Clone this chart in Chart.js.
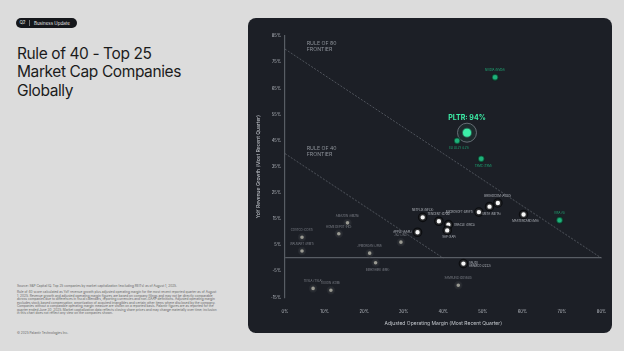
<!DOCTYPE html>
<html>
<head>
<meta charset="utf-8">
<script src="https://cdn.jsdelivr.net/npm/chart.js@4.4.1/dist/chart.umd.min.js"></script>
<style>
  body { margin: 0; width: 624px; height: 351px; background: #dcdcdc; font-family: Inter, "Noto Sans", sans-serif; overflow: hidden; position: relative; }
  .badge { position: absolute; left: 16px; top: 18px; height: 10px; width: 61px; background: #15171b; border-radius: 5px; color: #e8e8e8; font-size: 4.5px; display: flex; align-items: center; }
  .badge .q { width: 13px; text-align: center; border-right: 0.7px solid #777; line-height: 6px; }
  .badge .t { padding-left: 4px; }
  .title { position: absolute; left: 17px; top: 45px; font-size: 15.5px; line-height: 18.3px; color: #1b1b1b; letter-spacing: -0.4px; }
  .notes { position: absolute; left: 17px; top: 285px; width: 200px; font-size: 3.2px; line-height: 3.55px; color: #666; }
  .notes p { margin: 0 0 2.5px 0; }
  .copy { position: absolute; left: 17px; top: 331px; font-size: 3.2px; color: #666; }
  .panel { position: absolute; left: 248px; top: 18px; width: 364px; height: 315px; background: #1c1f26; border-radius: 8px; }
  canvas { position: absolute; left: 248px; top: 18px; }
</style>
</head>
<body>
<div class="badge"><span class="q">Q2</span><span class="t">Business Update</span></div>
<div class="title">Rule of 40 - Top 25<br>Market Cap Companies<br>Globally</div>
<div class="notes">
  <p>Source: S&amp;P Capital IQ. Top 25 companies by market capitalization (excluding REITs) as of August 1, 2025.</p>
  <p>Rule of 40 score calculated as YoY revenue growth plus adjusted operating margin for the most recent reported quarter as of August 1, 2025. Revenue growth and adjusted operating margin figures are based on company filings and may not be directly comparable across companies due to differences in fiscal calendars, reporting currencies and non-GAAP definitions. Adjusted operating margin excludes stock-based compensation, amortization of acquired intangibles and certain other items where disclosed by the company. Companies without a comparable operating margin measure are shown on a reported basis. Palantir figures are as reported for the quarter ended June 30, 2025. Market capitalization data reflects closing share prices and may change materially over time; inclusion in this chart does not reflect any view on the companies shown.</p>
</div>
<div class="copy">© 2025 Palantir Technologies Inc.</div>
<div class="panel"></div>
<canvas id="chart" width="364" height="315"></canvas>
<script>
// values
const companies = [
  "NVIDIA (NVDA)", "ELI LILLY (LLY)", "TSMC (TSM)", "VISA (V)",
  "NETFLIX (NFLX)", "APPLE (AAPL)", "TENCENT (0700)", "ORACLE (ORCL)", "SAP (SAP)",
  "MICROSOFT (MSFT)", "META (META)", "BROADCOM (AVGO)", "MASTERCARD (MA)", "SAUDI ARAMCO (2222)",
  "COSTCO (COST)", "WALMART (WMT)", "AMAZON (AMZN)", "HOME DEPOT (HD)", "JPMORGAN (JPM)",
  "BERKSHIRE (BRK)", "J&J (JNJ)", "TESLA (TSLA)", "EXXON (XOM)", "SAMSUNG (005930)"
];
const opMargin = [
  53.1, 43.5, 49.6, 69.4,
  34.8, 33.5, 38.9, 41.3, 41.0,
  49.0, 51.7, 53.8, 60.3, 45.1,
  4.3, 4.3, 15.8, 13.6, 21.4,
  22.9, 29.3, 7.1, 11.6, 43.8
];
const revGrowth = [
  69.2, 44.9, 38.0, 14.5,
  15.6, 9.9, 14.1, 12.8, 10.6,
  17.6, 19.7, 21.1, 16.7, -2.1,
  8.0, 2.7, 13.5, 9.3, 1.9,
  -1.8, 6.1, -11.6, -12.3, -10.4
];
const pltr = { name: "PLTR", margin: 46, growth: 48 };
const frontiers = [40, 80];
const xTicks = [0, 10, 20, 30, 40, 50, 60, 70, 80];
const yTicks = [-15, -5, 5, 15, 25, 35, 45, 55, 65, 75, 85];

const tierOf = (i) => {
  const score = opMargin[i] + revGrowth[i];
  if (score >= 80) return "top";
  if (score >= 40) return "mid";
  return "low";
};

function pointsFor(tier) {
  return companies
    .map((name, i) => ({ x: opMargin[i], y: revGrowth[i], name: name }))
    .filter((p, i) => tierOf(i) === tier);
}

// where each company's tag sits relative to its dot
const labelSide = {
  "NVIDIA (NVDA)": "a", "ELI LILLY (LLY)": "b", "TSMC (TSM)": "b", "VISA (V)": "a",
  "NETFLIX (NFLX)": "a", "APPLE (AAPL)": "l", "TENCENT (0700)": "a", "ORACLE (ORCL)": "r", "SAP (SAP)": "b",
  "MICROSOFT (MSFT)": "l", "META (META)": "b", "BROADCOM (AVGO)": "a", "MASTERCARD (MA)": "b", "SAUDI ARAMCO (2222)": "r2",
  "COSTCO (COST)": "a", "WALMART (WMT)": "a", "AMAZON (AMZN)": "a", "HOME DEPOT (HD)": "a", "JPMORGAN (JPM)": "a",
  "BERKSHIRE (BRK)": "b", "J&J (JNJ)": "a", "TESLA (TSLA)": "a", "EXXON (XOM)": "a", "SAMSUNG (005930)": "a"
};

const labelColors = { top: "#1fae78", mid: "#b9bdc4", low: "#7d8189" };

const pointLabels = {
  id: "pointLabels",
  afterDatasetsDraw(chart) {
    const ctx = chart.ctx;
    ctx.save();
    ctx.font = "2.8px Inter, sans-serif";
    chart.data.datasets.forEach((ds, di) => {
      if (!ds.tier) return;
      const meta = chart.getDatasetMeta(di);
      ctx.fillStyle = labelColors[ds.tier];
      meta.data.forEach((el, i) => {
        const name = ds.data[i].name;
        const side = labelSide[name] || "a";
        if (side === "a") { ctx.textAlign = "center"; ctx.fillText(name, el.x, el.y - 6); }
        else if (side === "b") { ctx.textAlign = "center"; ctx.fillText(name, el.x + 2, el.y + 8); }
        else if (side === "l") { ctx.textAlign = "right"; ctx.fillText(name, el.x - 5.5, el.y + 1); }
        else if (side === "r") { ctx.textAlign = "left"; ctx.fillText(name, el.x + 5.5, el.y + 1); }
        else {
          const parts = name.split(" ");
          ctx.textAlign = "left";
          ctx.fillText(parts[0], el.x + 5.5, el.y);
          ctx.fillText(parts.slice(1).join(" "), el.x + 5.5, el.y + 3.6);
        }
      });
    });

    // PLTR callout
    const pm = chart.getDatasetMeta(chart.data.datasets.findIndex(d => d.isPltr)).data[0];
    ctx.font = "bold 7px Inter, sans-serif";
    ctx.fillStyle = "#3cf0a8";
    ctx.textAlign = "center";
    ctx.fillText(pltr.name + ": " + (pltr.margin + pltr.growth) + "%", pm.x, pm.y - 13);

    // frontier tags
    const xs = chart.scales.x, ys = chart.scales.y;
    ctx.font = "5.2px Inter, sans-serif";
    ctx.fillStyle = "#8d9299";
    ctx.textAlign = "left";
    frontiers.forEach(r => {
      const tx = xs.getPixelForValue(5.5);
      const ty = ys.getPixelForValue(r + 1.5);
      ctx.fillText("RULE OF " + r, tx, ty);
      ctx.fillText("FRONTIER", tx, ty + 6);
    });
    ctx.restore();
  }
};

const datasets = [];
frontiers.forEach(r => {
  datasets.push({
    type: "line",
    data: [{ x: 0, y: r }, { x: r, y: 0 }],
    borderColor: "rgba(120, 126, 135, 0.7)",
    borderWidth: 0.8,
    borderDash: [2, 1.5],
    pointRadius: 0
  });
});
datasets.push({
  tier: "low",
  data: pointsFor("low"),
  pointRadius: 3,
  pointBackgroundColor: "#9a9a92",
  pointBorderColor: "rgba(38, 41, 47, 0.95)",
  pointBorderWidth: 2.4
});
datasets.push({
  tier: "mid",
  data: pointsFor("mid"),
  pointRadius: 3.5,
  pointBackgroundColor: "#f6f6f6",
  pointBorderColor: "rgba(8, 9, 12, 0.85)",
  pointBorderWidth: 2.6
});
datasets.push({
  tier: "top",
  data: pointsFor("top"),
  pointRadius: 3.1,
  pointBackgroundColor: "#1db27a",
  pointBorderColor: "rgba(10, 40, 30, 0.6)",
  pointBorderWidth: 1.6
});
datasets.push({
  isPltr: true,
  data: [{ x: pltr.margin, y: pltr.growth }],
  pointRadius: [9.5],
  pointBackgroundColor: "rgba(60, 240, 168, 0.06)",
  pointBorderColor: "rgba(120, 126, 135, 0.8)",
  pointBorderWidth: 1
});
datasets.push({
  data: [{ x: pltr.margin, y: pltr.growth }],
  pointRadius: 4,
  pointBackgroundColor: "#3cf0a8",
  pointBorderColor: "rgba(60, 240, 168, 0.35)",
  pointBorderWidth: 2
});

const tickFont = { family: "Inter, sans-serif", size: 4.2 };

new Chart(document.getElementById("chart"), {
  type: "scatter",
  data: { datasets: datasets },
  options: {
    responsive: false,
    animation: false,
    layout: { padding: { top: 18, right: 8.7, left: 0, bottom: 0 } },
    plugins: { legend: { display: false }, tooltip: { enabled: false } },
    scales: {
      x: {
        type: "linear",
        min: 0,
        max: 80,
        afterBuildTicks: (s) => { s.ticks = xTicks.map(v => ({ value: v })); },
        afterFit: (s) => { s.height = 35.7; },
        grid: { display: false },
        border: { display: false },
        ticks: { color: "#b8bcc3", font: tickFont, padding: 4, maxRotation: 0, callback: (v) => v + "%" },
        title: {
          display: true,
          text: "Adjusted Operating Margin (Most Recent Quarter)",
          color: "#c4c8ce",
          font: { family: "Inter, sans-serif", size: 5 },
          padding: { top: 0, bottom: 6.7 }
        }
      },
      y: {
        type: "linear",
        min: -15,
        max: 85,
        afterBuildTicks: (s) => { s.ticks = yTicks.concat([0]).map(v => ({ value: v })); },
        afterFit: (s) => { s.width = 37; },
        grid: {
          drawTicks: false,
          color: (c) => c.tick && c.tick.value === 0 ? "rgba(95, 100, 108, 0.9)" : "transparent",
          lineWidth: 1.3
        },
        border: { display: true, color: "rgba(95, 100, 108, 0.9)", width: 1.2 },
        ticks: {
          color: "#b8bcc3",
          font: tickFont,
          padding: 4,
          callback: (v) => v === 0 ? "" : v + "%"
        },
        title: {
          display: true,
          text: "YoY Revenue Growth (Most Recent Quarter)",
          color: "#c4c8ce",
          font: { family: "Inter, sans-serif", size: 5 },
          padding: { top: 7, bottom: 0 }
        }
      }
    }
  },
  plugins: [pointLabels]
});
</script>
</body>
</html>
